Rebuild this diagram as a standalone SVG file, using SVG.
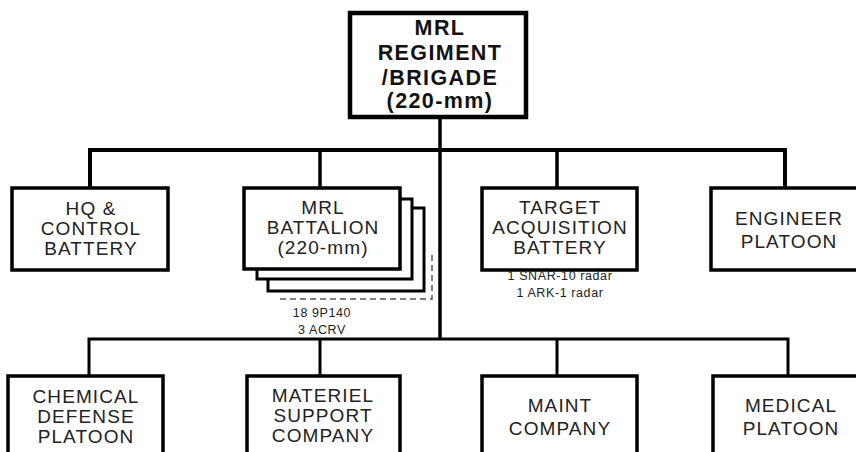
<svg xmlns="http://www.w3.org/2000/svg" width="856" height="452" viewBox="0 0 856 452">
<style>
.box{fill:#fff;stroke:#000;stroke-width:3.5}
.back{fill:#fff;stroke:#000;stroke-width:3}
.top{fill:#fff;stroke:#000;stroke-width:4.5}
.t{font-family:"Liberation Sans",Arial,sans-serif;font-size:19px;letter-spacing:1.1px;fill:#222;text-anchor:middle}
.tb{font-family:"Liberation Sans",Arial,sans-serif;font-size:21.5px;letter-spacing:1.4px;font-weight:bold;fill:#111;text-anchor:middle}
.s{font-family:"Liberation Sans",Arial,sans-serif;font-size:12.5px;letter-spacing:0.6px;fill:#222;text-anchor:middle}
.c{fill:none;stroke:#000;stroke-linejoin:miter}
</style>
<rect width="856" height="452" fill="#fff"/>
<g id="connectors">
<path class="c" stroke-width="4" d="M90,188 V150 H785 V188"/>
<path class="c" stroke-width="3.5" d="M320,150 V188 M557,150 V188"/>
<path class="c" stroke-width="3.5" d="M440,117 V339"/>
<path class="c" stroke-width="3" d="M89,376 V339 H788 V376 M320,339 V376 M557,339 V376"/>
</g>
<g id="regiment">
<rect class="top" x="350" y="13" width="176" height="104"/>
<text class="tb" x="440" y="35">MRL</text>
<text class="tb" x="440" y="60">REGIMENT</text>
<text class="tb" x="440" y="85">/BRIGADE</text>
<text class="tb" x="440" y="108">(220-mm)</text>
</g>
<g id="hq">
<rect class="box" x="12" y="188" width="156" height="82"/>
<text class="t" x="91" y="215">HQ &amp;</text>
<text class="t" x="91" y="235">CONTROL</text>
<text class="t" x="91" y="255">BATTERY</text>
</g>
<g id="battalion">
<path fill="none" stroke="#555" stroke-width="1.5" stroke-dasharray="6,4" d="M432,255 V299 H277"/>
<rect class="back" x="268" y="208" width="156" height="83"/>
<rect class="back" x="257" y="199" width="155" height="80"/>
<rect class="box" x="244" y="188" width="156" height="81"/>
<text class="t" x="323" y="214">MRL</text>
<text class="t" x="323" y="234">BATTALION</text>
<text class="t" x="323" y="254">(220-mm)</text>
<text class="s" x="322" y="317">18 9P140</text>
<text class="s" x="322" y="334">3 ACRV</text>
</g>
<g id="target">
<rect class="box" x="482" y="188" width="155" height="82"/>
<text class="t" x="560" y="214">TARGET</text>
<text class="t" x="560" y="234">ACQUISITION</text>
<text class="t" x="560" y="254">BATTERY</text>
<text class="s" x="560" y="280">1 SNAR-10 radar</text>
<text class="s" x="560" y="297">1 ARK-1 radar</text>
</g>
<g id="engineer">
<rect class="box" x="711" y="188" width="155" height="82"/>
<text class="t" x="789" y="225">ENGINEER</text>
<text class="t" x="789" y="248">PLATOON</text>
</g>
<g id="chemical">
<rect class="box" x="8" y="376" width="155" height="90"/>
<text class="t" x="86" y="403">CHEMICAL</text>
<text class="t" x="86" y="423">DEFENSE</text>
<text class="t" x="86" y="443">PLATOON</text>
</g>
<g id="materiel">
<rect class="box" x="247" y="376" width="153" height="90"/>
<text class="t" x="323" y="402">MATERIEL</text>
<text class="t" x="323" y="422">SUPPORT</text>
<text class="t" x="323" y="442">COMPANY</text>
</g>
<g id="maint">
<rect class="box" x="482" y="376" width="155" height="90"/>
<text class="t" x="560" y="412">MAINT</text>
<text class="t" x="560" y="435">COMPANY</text>
</g>
<g id="medical">
<rect class="box" x="713" y="376" width="155" height="90"/>
<text class="t" x="791" y="412">MEDICAL</text>
<text class="t" x="791" y="435">PLATOON</text>
</g>
</svg>
